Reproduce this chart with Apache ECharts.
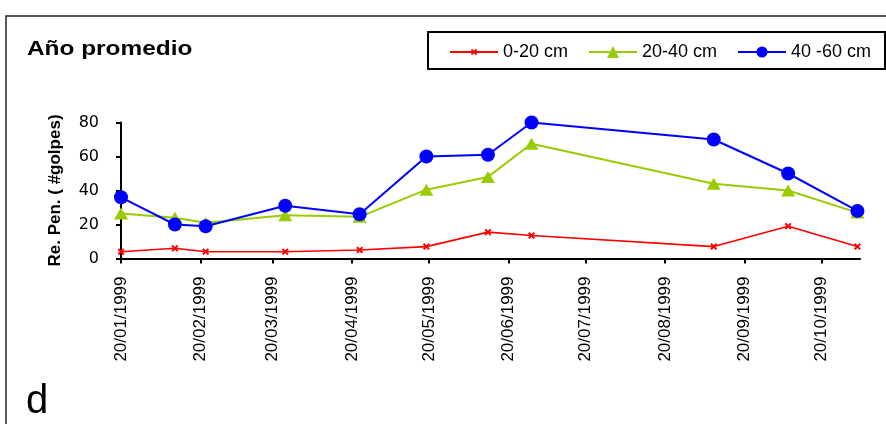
<!DOCTYPE html>
<html>
<head>
<meta charset="utf-8">
<script src="https://cdn.jsdelivr.net/npm/echarts@6/dist/echarts.min.js"></script>
<style>
  html, body { margin: 0; padding: 0; background: #fff; }
  #chart { width: 886px; height: 424px; }
</style>
</head>
<body>
<div id="chart"></div>
<script>
// Sampling dates (dd/mm/yyyy) and penetration resistance per depth layer
const dates = ['20/01/1999', '10/02/1999', '22/02/1999', '25/03/1999', '23/04/1999', '19/05/1999',
               '12/06/1999', '29/06/1999', '08/09/1999', '07/10/1999', '03/11/1999'];
const depth0to20  = [4, 6, 4, 4, 5, 7, 15.5, 13.5, 7, 19, 7];
const depth20to40 = [26.5, 24, 21, 25.5, 24.5, 40.5, 48, 67.5, 44, 40, 27];
const depth40to60 = [36, 20, 19, 31, 26, 60, 61, 80, 70, 50, 28];
const seriesNames = ['0-20 cm', '20-40 cm', '40 -60 cm'];

// Monthly date ticks and the axis range
const tickLabels = ['20/01/1999', '20/02/1999', '20/03/1999', '20/04/1999', '20/05/1999',
                    '20/06/1999', '20/07/1999', '20/08/1999', '20/09/1999', '20/10/1999'];
const axisStart = '20/01/1999';
const axisEnd = '04/11/1999';
const yTicks = [0, 20, 40, 60, 80];

const DAY = 86400000;
function parseDate(s) {
  const [d, m, y] = s.split('/').map(Number);
  return Date.UTC(y, m - 1, d) / DAY; // day number
}
function pad(n) { return (n < 10 ? '0' : '') + n; }
function formatDate(dayNum) {
  const d = new Date(Math.round(dayNum) * DAY);
  return pad(d.getUTCDate()) + '/' + pad(d.getUTCMonth() + 1) + '/' + d.getUTCFullYear();
}
function pairs(values) {
  return dates.map((s, i) => [parseDate(s), values[i]]);
}

const tickDays = tickLabels.map(parseDate);
const xMarker = 'path://M0,2L2,0L5,3L8,0L10,2L7,5L10,8L8,10L5,7L2,10L0,8L3,5Z';

const chart = echarts.init(document.getElementById('chart'), null, { renderer: 'canvas' });

const legendBase = {
  top: 43,
  itemWidth: 48,
  itemGap: 0,
  padding: 0,
  textStyle: { fontFamily: '"Liberation Sans", Arial, sans-serif', fontSize: 18, color: '#000' },
  selectedMode: false
};

chart.setOption({
  animation: false,
  backgroundColor: '#fff',
  grid: { left: 121, right: 26, top: 122.5, bottom: 165.5, containLabel: false },
  legend: [
    Object.assign({}, legendBase, { data: [seriesNames[0]], left: 449, itemHeight: 8 }),
    Object.assign({}, legendBase, { data: [seriesNames[1]], left: 588, itemHeight: 15 }),
    Object.assign({}, legendBase, { data: [seriesNames[2]], left: 737, itemHeight: 14 })
  ],
  xAxis: {
    type: 'value',
    min: parseDate(axisStart),
    max: parseDate(axisEnd),
    splitLine: { show: false },
    axisLine: { show: true, lineStyle: { color: '#000', width: 2 } },
    axisTick: { show: true, inside: false, length: 5, lineStyle: { color: '#000', width: 2 }, customValues: tickDays },
    axisLabel: {
      customValues: tickDays,
      rotate: 90,
      margin: 18,
      formatter: v => formatDate(v),
      fontFamily: '"Liberation Sans", Arial, sans-serif',
      fontSize: 17,
      color: '#000'
    }
  },
  yAxis: {
    type: 'value',
    min: yTicks[0],
    max: yTicks[yTicks.length - 1],
    interval: 20,
    name: 'Re. Pen. ( #golpes)',
    nameLocation: 'middle',
    nameGap: 57,
    nameTextStyle: { fontFamily: '"Liberation Sans", Arial, sans-serif', fontSize: 17, fontWeight: 'bold', color: '#000' },
    splitLine: { show: false },
    axisLine: { show: true, lineStyle: { color: '#000', width: 2 } },
    axisTick: { show: true, inside: false, length: 5, lineStyle: { color: '#000', width: 2 } },
    axisLabel: { margin: 22, fontFamily: '"DejaVu Sans", sans-serif', fontSize: 16, color: '#000' }
  },
  series: [
    {
      name: seriesNames[0], type: 'line', data: pairs(depth0to20),
      symbol: xMarker, symbolSize: 7, showAllSymbol: true,
      lineStyle: { color: '#ff0000', width: 1.6 },
      itemStyle: { color: '#ff0000' }
    },
    {
      name: seriesNames[1], type: 'line', data: pairs(depth20to40),
      symbol: 'triangle', symbolSize: [14, 12], showAllSymbol: true,
      lineStyle: { color: '#99cc00', width: 2 },
      itemStyle: { color: '#99cc00' }
    },
    {
      name: seriesNames[2], type: 'line', data: pairs(depth40to60),
      symbol: 'circle', symbolSize: 14, showAllSymbol: true,
      lineStyle: { color: '#0000ff', width: 2 },
      itemStyle: { color: '#0000ff' }
    }
  ],
  graphic: [
    { type: 'rect', shape: { x: 6, y: 16, width: 900, height: 430 }, style: { fill: 'none', stroke: '#222', lineWidth: 1.5 }, silent: true },
    { type: 'rect', shape: { x: 428, y: 32, width: 457, height: 37 }, style: { fill: 'none', stroke: '#000', lineWidth: 2 }, silent: true },
    {
      type: 'text', x: 27, y: 49, scaleX: 1.22,
      style: { text: 'Año promedio', fontFamily: '"Liberation Sans", Arial, sans-serif', fontSize: 20, fontWeight: 'bold', fill: '#000', verticalAlign: 'middle' },
      silent: true
    },
    {
      type: 'text', x: 26, y: 402,
      style: { text: 'd', fontFamily: '"Liberation Sans", Arial, sans-serif', fontSize: 40, fill: '#000', verticalAlign: 'middle' },
      silent: true
    }
  ]
});
</script>
</body>
</html>
